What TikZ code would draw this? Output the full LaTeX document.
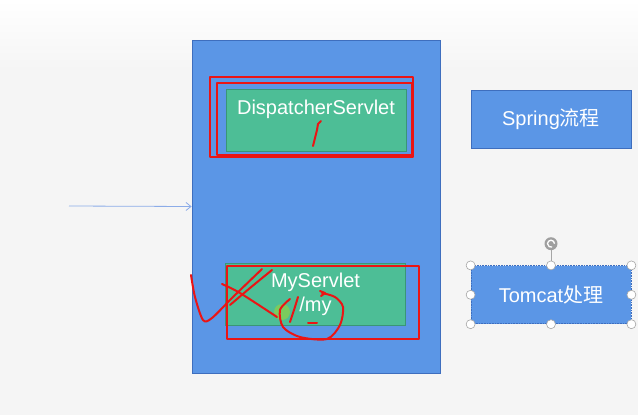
\documentclass[tikz,border=0pt]{standalone}
\usepackage{fontspec}
\setmainfont{Liberation Sans}
\newfontfamily\cjk{Noto Sans CJK SC}
\usetikzlibrary{positioning,arrows.meta}
\definecolor{bgc}{RGB}{245,245,245}
\definecolor{boxblue}{RGB}{91,150,230}
\definecolor{edgeblue}{RGB}{62,110,190}
\definecolor{boxgreen}{RGB}{77,190,150}
\definecolor{edgegreen}{RGB}{58,150,118}
\definecolor{penred}{RGB}{235,20,20}
\definecolor{arrowblue}{RGB}{140,172,232}

\begin{document}
\begin{tikzpicture}[%
    x=1pt,
    y=-1pt,
    container/.style={%
      rectangle,
      fill=boxblue,
      draw=edgeblue,
      line width=0.8pt,
      minimum width=248pt,
      minimum height=333pt,
      inner sep=0pt
    },
    servlet/.style={%
      rectangle,
      fill=boxgreen,
      draw=edgegreen,
      line width=0.8pt,
      minimum width=180pt,
      minimum height=62pt,
      inner sep=0pt
    },
    tag/.style={%
      rectangle,
      fill=boxblue,
      draw=edgeblue,
      line width=0.8pt,
      minimum width=160pt,
      minimum height=58pt,
      inner sep=0pt
    },
    txt/.style={%
      text=white,
      font=\fontsize{20}{24}\selectfont,
      align=center,
      inner sep=0pt
    },
    handle/.style={%
      circle,
      fill=white,
      draw=gray!70,
      line width=0.6pt,
      minimum size=9pt,
      inner sep=0pt
    },
    pen/.style={%
      draw=penred,
      line width=2pt,
      line cap=round,
      line join=round
    },
    flow/.style={%
      draw=arrowblue,
      line width=0.8pt,
      -{Straight Barb[length=5pt,width=8pt]}
    }
  ]
    \fill[bgc] (0,0) rectangle (638,415);
    \shade[top color=white, bottom color=bgc] (0,0) rectangle (638,70);

    \node[container] (outer) at (316,206.5) {};
    \node[servlet] (disp) at (316,120.5) {};
    \node[txt, below=11pt of disp.north] (disptxt) {DispatcherServlet};
    \node[servlet, txt] (mysv) at (315.5,294) {MyServlet\\/my};

    \node[tag, txt] (spring) at (551,119) {Spring{\cjk 流程}};
    \node[tag, txt, dash pattern=on 1pt off 0.6pt, below=117pt of spring] (tomcat) {Tomcat{\cjk 处理}};

    \coordinate (src) at (69,206);
    \draw[flow] (src) -- (outer.west);

    \foreach \a in {north west,north,north east,west,east,south west,south,south east}
      \node[handle] at (tomcat.\a) {};
    \node[circle, fill=gray!75, minimum size=13pt, inner sep=0pt, above=15pt of tomcat.north] (rot) {};
    \draw[gray!70, line width=0.6pt] (rot) -- ([yshift=4.5pt]tomcat.north);
    \draw[white, line width=1.3pt] ([xshift=3.5pt]rot.center) arc[start angle=0, end angle=290, radius=3.5pt];

    \fill[yellow!70!green, opacity=0.45] (282,312) circle[radius=8pt];

    \draw[pen] (210,77) rectangle (413,157);
    \draw[pen] (217,83) rectangle (412,155);
    \draw[pen] (313,146) -- (317,130) -- (318,124) -- (321,121);
    \draw[pen] (227,266) rectangle (419,339);
    \draw[pen] plot[smooth] coordinates {(191,275) (195,297) (203,320) (212,318) (233,297) (262,269)};
    \draw[pen] plot[smooth] coordinates {(272,270) (250,288) (230,305)};
    \draw[pen] plot[smooth] coordinates {(222,284) (240,293) (277,317)};
    \draw[pen] plot[smooth] coordinates {(298,297) (294,310) (290,322)};
    \draw[pen] plot[smooth] coordinates {(290,299) (280,310) (283,327) (300,337) (327,339) (340,325) (343,307) (335,297) (322,293)};
    \draw[pen] (320,291) -- (325,293) -- (321,296);
    \draw[pen] (308,323) -- (317,323);
\end{tikzpicture}
\end{document}
